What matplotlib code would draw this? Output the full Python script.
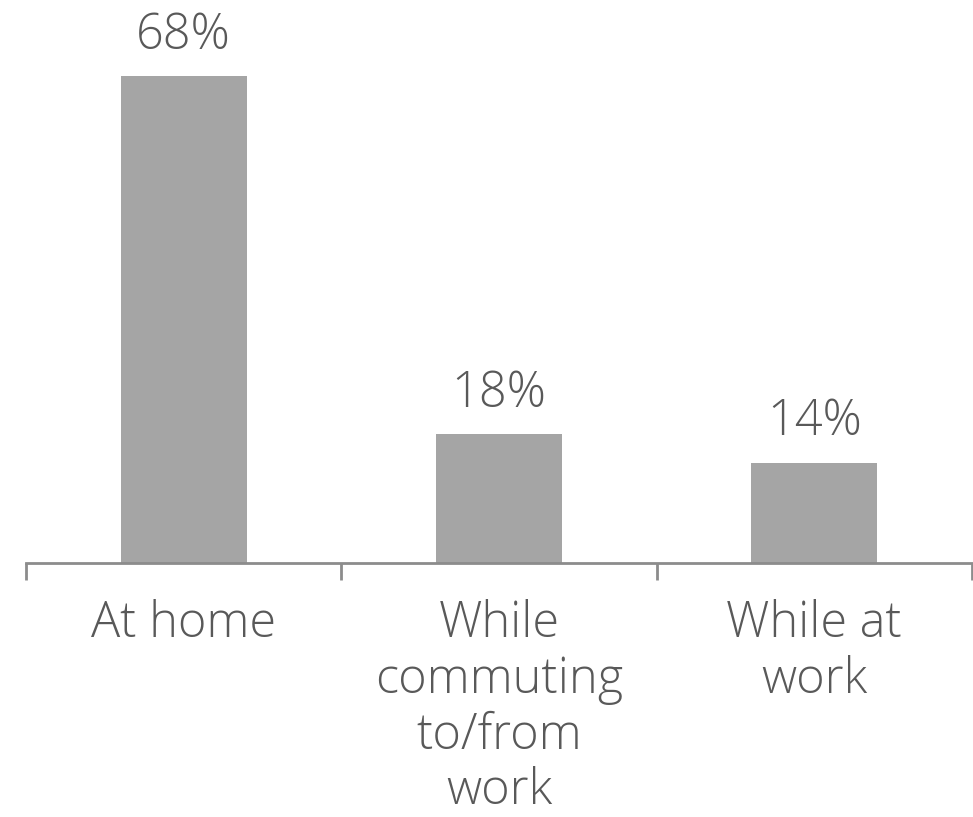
import matplotlib
matplotlib.use("Agg")
import matplotlib.pyplot as plt

categories = ["At home", "While\ncommuting\nto/from\nwork", "While at\nwork"]
values = [68, 18, 14]

BAR = "#a5a5a5"
INK = "#595959"
AXIS = "#8c8c8c"

plt.rcParams["font.family"] = ["Open Sans", "DejaVu Sans"]
plt.rcParams["font.weight"] = "light"

fig = plt.figure(figsize=(9.73, 8.17), dpi=100)
ax = fig.add_axes((26 / 973, (817 - 563) / 817, (972 - 26) / 973, 563 / 817))

x = list(range(len(categories)))
bars = ax.bar(x, values, width=0.40, color=BAR)
ax.set_xlim(-0.5, len(categories) - 0.5)
ax.set_ylim(0, 78.6)

for rect, v in zip(bars, values):
    ax.annotate(f"{v}%", (rect.get_x() + rect.get_width() / 2, rect.get_height()),
                xytext=(0, 11), textcoords="offset points", ha="center", va="bottom",
                fontsize=35, color=INK, fontweight="light")

for s in ("top", "right", "left"):
    ax.spines[s].set_visible(False)
ax.spines["bottom"].set_color(AXIS)
ax.spines["bottom"].set_linewidth(2)
ax.set_yticks([])

ax.set_xticks([i - 0.5 for i in range(len(categories) + 1)])
ax.set_xticklabels([])
ax.tick_params(axis="x", which="major", length=12, width=2, color=AXIS, direction="out")
ax.set_xticks(x, minor=True)
ax.set_xticklabels(categories, minor=True, fontsize=35, color=INK, linespacing=1.15,
                   fontweight="light")
ax.tick_params(axis="x", which="minor", length=0, pad=26)

fig.savefig("out.png", dpi=100, facecolor="white")
